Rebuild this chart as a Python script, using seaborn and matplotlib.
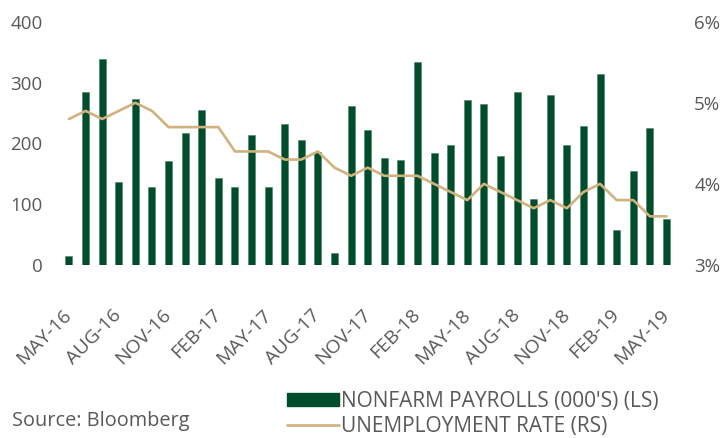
import pandas as pd
import numpy as np
import matplotlib.pyplot as plt
import matplotlib.transforms as mtransforms
import seaborn as sns
from matplotlib.patches import Patch
from matplotlib.lines import Line2D

sns.set_theme(style="white")
plt.rcParams['font.family'] = ['Open Sans', 'DejaVu Sans']

# monthly data, May-16 .. May-19
months = pd.date_range('2016-05-01', '2019-05-01', freq='MS')
labels = [m.strftime('%b-%y').upper() for m in months]

payrolls = [15, 284, 338, 136, 273, 129, 171, 217, 254, 143,
            128, 214, 129, 231, 206, 185, 19, 262, 222, 176,
            172, 333, 184, 198, 272, 264, 180, 284, 109, 279,
            198, 229, 314, 58, 155, 226, 76]

unemployment = [4.8, 4.9, 4.8, 4.9, 5.0, 4.9, 4.7, 4.7, 4.7, 4.7,
                4.4, 4.4, 4.4, 4.3, 4.3, 4.4, 4.2, 4.1, 4.2, 4.1,
                4.1, 4.1, 4.0, 3.9, 3.8, 4.0, 3.9, 3.8, 3.7, 3.8,
                3.7, 3.9, 4.0, 3.8, 3.8, 3.6, 3.6]

df = pd.DataFrame({'Month': labels, 'Payrolls': payrolls,
                   'Rate': unemployment, 'Pos': np.arange(len(labels))})

green = '#004D2C'
tan = '#CFB27E'
grey = '#595959'

fig = plt.figure(figsize=(7.25, 4.38), dpi=100)
ax = fig.add_axes([0.0837, 0.395, 0.847, 0.5555])

sns.barplot(ax=ax, data=df, x='Month', y='Payrolls', color=green,
            width=0.42, saturation=1, edgecolor='#4F7F66', linewidth=0.4)
ax.set_ylim(0, 400)
ax.set_xlim(-0.5, len(labels) - 0.5)
ax.set_yticks([0, 100, 200, 300, 400])

ax2 = ax.twinx()
sns.lineplot(ax=ax2, data=df, x='Pos', y='Rate', color=tan, linewidth=1.9)
ax2.set_ylim(3, 6)
ax2.set_yticks([3, 4, 5, 6])
ax2.set_yticklabels(['3%', '4%', '5%', '6%'])
ax2.set_xlim(-0.5, len(labels) - 0.5)

ax.set_xticks(range(0, len(labels), 3))
ax.set_xticklabels(labels[::3], rotation=45, ha='right', va='center',
                   rotation_mode='anchor')
# nudge the rotated labels a little to the right, like the original
shift = mtransforms.ScaledTranslation(5 / 72, 0, fig.dpi_scale_trans)
for lab in ax.get_xticklabels():
    lab.set_transform(lab.get_transform() + shift)

for a in (ax, ax2):
    a.set_xlabel('')
    a.set_ylabel('')
    for s in a.spines.values():
        s.set_visible(False)
    a.tick_params(length=0, labelsize=13.5, labelcolor=grey)
ax.tick_params(axis='y', pad=13)
ax2.tick_params(axis='y', pad=14)
ax.tick_params(axis='x', pad=34, labelsize=14)

handles = [Patch(facecolor=green, edgecolor=green),
           Line2D([], [], color=tan, linewidth=1.9)]
fig.legend(handles, ["NONFARM PAYROLLS (000'S) (LS)", 'UNEMPLOYMENT RATE (RS)'],
           loc='upper left', bbox_to_anchor=(0.396, 0.107), frameon=False,
           fontsize=15, labelcolor=grey, handlelength=2.5, handleheight=0.58,
           handletextpad=0.1, labelspacing=0.2, borderpad=0, borderaxespad=0)

fig.text(0.0166, 0.0274, 'Source: Bloomberg', fontsize=14.3, color=grey,
         va='baseline')

fig.savefig('out.png', dpi=100)
